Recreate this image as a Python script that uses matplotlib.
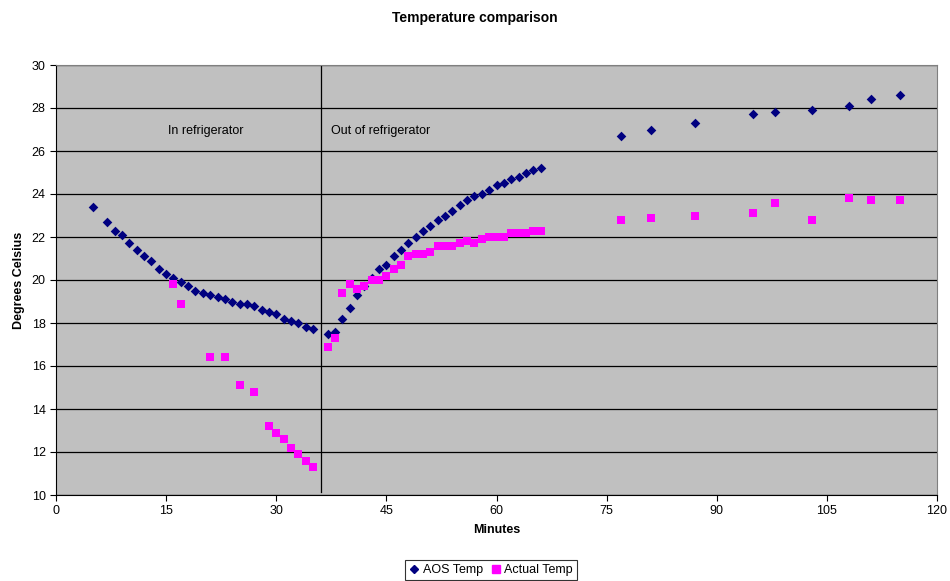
import matplotlib.pyplot as plt
from matplotlib.lines import Line2D

plt.rcParams['font.family'] = ['Liberation Sans', 'DejaVu Sans']

# minutes at which each reading was taken
minutes_in = [5, 7, 8, 9, 10, 11, 12, 13, 14, 15, 16, 17, 18, 19, 20, 21, 22, 23, 24, 25,
              26, 27, 28, 29, 30, 31, 32, 33, 34, 35]
aos_in = [23.4, 22.7, 22.3, 22.1, 21.7, 21.4, 21.1, 20.9, 20.5, 20.3, 20.1, 19.9, 19.7, 19.5, 19.4,
          19.3, 19.2, 19.1, 19.0, 18.9, 18.9, 18.8, 18.6, 18.5, 18.4, 18.2, 18.1, 18.0, 17.8, 17.7]

minutes_actual_in = [16, 17, 21, 23, 25, 27, 29, 30, 31, 32, 33, 34, 35]
actual_in = [19.8, 18.9, 16.4, 16.4, 15.1, 14.8, 13.2, 12.9, 12.6, 12.2, 11.9, 11.6, 11.3]

minutes_out = [37, 38, 39, 40, 41, 42, 43, 44, 45, 46, 47, 48, 49, 50, 51, 52, 53, 54, 55, 56,
               57, 58, 59, 60, 61, 62, 63, 64, 65, 66, 77, 81, 87, 95, 98, 103, 108, 111, 115]
aos_out = [17.5, 17.6, 18.2, 18.7, 19.3, 19.7, 20.1, 20.5, 20.7, 21.1, 21.4, 21.7, 22.0, 22.3,
           22.5, 22.8, 23.0, 23.2, 23.5, 23.7, 23.9, 24.0, 24.2, 24.4, 24.5, 24.7, 24.8, 25.0,
           25.1, 25.2, 26.7, 27.0, 27.3, 27.7, 27.8, 27.9, 28.1, 28.4, 28.6]
actual_out = [16.9, 17.3, 19.4, 19.8, 19.6, 19.7, 20.0, 20.0, 20.2, 20.5, 20.7, 21.1, 21.2, 21.2,
              21.3, 21.6, 21.6, 21.6, 21.7, 21.8, 21.7, 21.9, 22.0, 22.0, 22.0, 22.2, 22.2, 22.2,
              22.3, 22.3, 22.8, 22.9, 23.0, 23.1, 23.6, 22.8, 23.8, 23.7, 23.7]

aos_minutes = minutes_in + minutes_out
aos_temp = aos_in + aos_out
actual_minutes = minutes_actual_in + minutes_out
actual_temp = actual_in + actual_out

removed_at = 36.1

fig = plt.figure(figsize=(9.5, 5.81), dpi=100)
ax = fig.add_axes([56 / 950, 86 / 581, 881 / 950, 430 / 581])
ax.set_facecolor('#C0C0C0')

ax.scatter(aos_minutes, aos_temp, marker='D', s=24, color='#000080', zorder=3, linewidths=0)
ax.scatter(actual_minutes, actual_temp, marker='s', s=38, color='#FF00FF', zorder=3, linewidths=0)

ax.plot([removed_at, removed_at], [10.15, 30], color='black', lw=0.9, zorder=2)

ax.text(15.3, 26.95, 'In refrigerator', fontsize=9, va='center')
ax.text(37.5, 26.95, 'Out of refrigerator', fontsize=9, va='center')

ax.set_xlim(0, 120)
ax.set_ylim(10, 30)
ax.set_xticks(range(0, 121, 15))
ax.set_yticks(range(10, 31, 2))
ax.yaxis.grid(True, color='black', lw=0.9)
ax.set_axisbelow(True)
ax.tick_params(labelsize=9, direction='out', length=4, width=0.8)
for s in ax.spines.values():
    s.set_color('#808080')
ax.spines['left'].set_color('black')
ax.spines['bottom'].set_color('black')

ax.set_xlabel('Minutes', fontsize=9, fontweight='bold', labelpad=5)
ax.set_ylabel('Degrees Celsius', fontsize=9, fontweight='bold', labelpad=5)
fig.text(0.5, 1 - 18 / 581, 'Temperature comparison', ha='center', va='center',
         fontsize=10, fontweight='bold')

handles = [Line2D([], [], marker='D', ls='', color='#000080', markersize=4.5),
           Line2D([], [], marker='s', ls='', color='#FF00FF', markersize=6)]
leg = fig.legend(handles, ['AOS Temp', 'Actual Temp'], loc='center',
                 bbox_to_anchor=(491 / 950, 1 - 570 / 581), ncol=2, fontsize=9,
                 frameon=True, fancybox=False, edgecolor='black', handlelength=0.8,
                 handletextpad=0.3, columnspacing=0.6, borderpad=0.3)
leg.get_frame().set_linewidth(0.8)

fig.savefig('out.png', dpi=100)
